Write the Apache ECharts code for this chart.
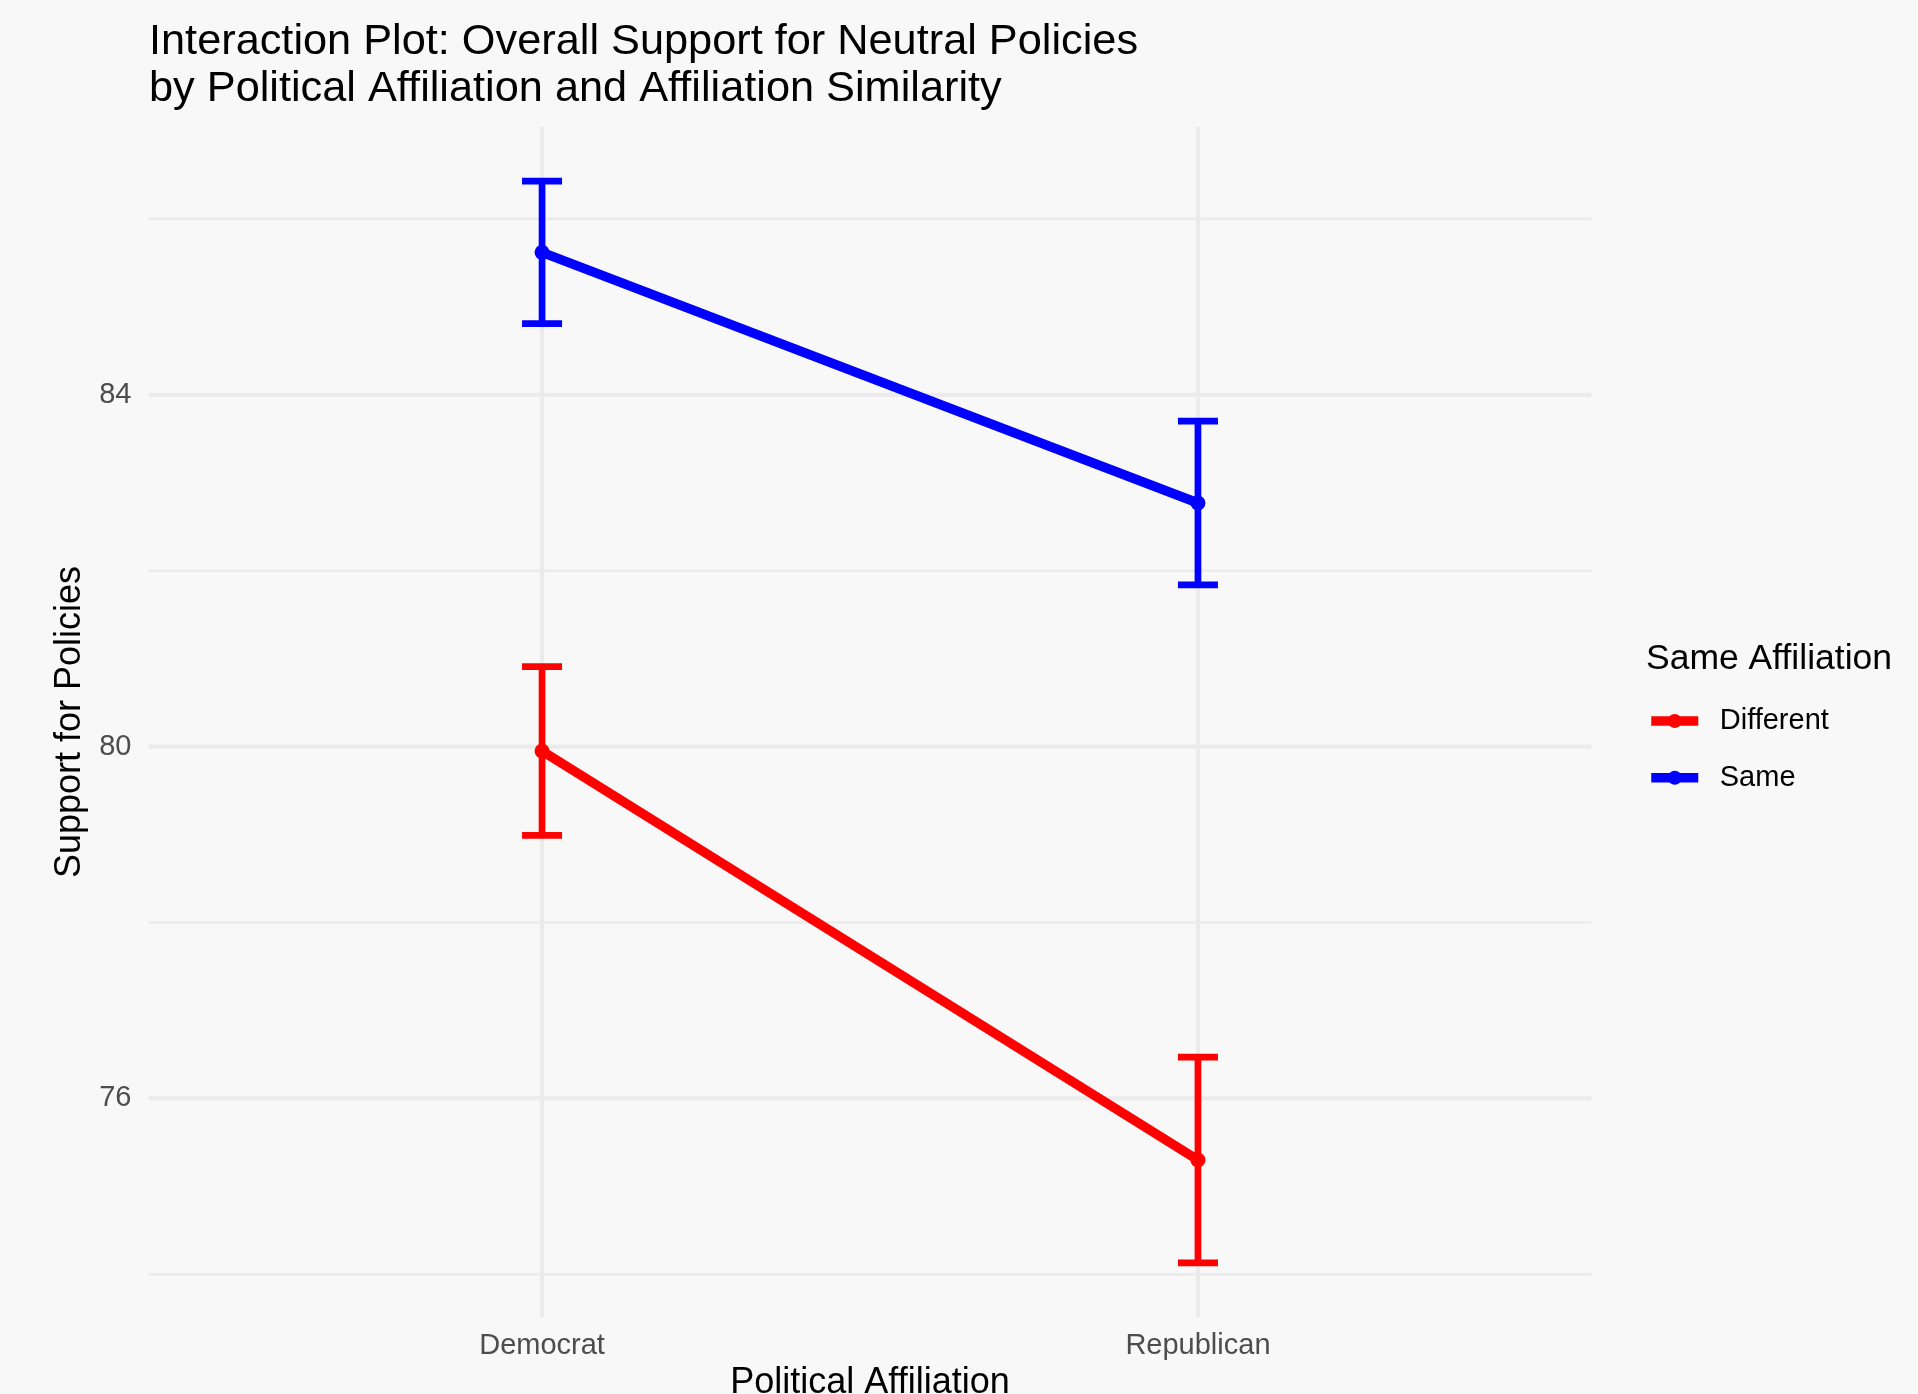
<!DOCTYPE html>
<html><head><meta charset="utf-8">
<script src="https://cdn.jsdelivr.net/npm/echarts@6/dist/echarts.min.js"></script>
<style>html,body{margin:0;padding:0;background:#F8F8F8}#c{width:1918px;height:1394px}</style>
</head><body><div id="c"></div>
<script>
// ---- data ----
const categories = ['Democrat', 'Republican'];
const groups = ['Different', 'Same'];
const diffMean = [79.95, 75.30];
const diffSE = [0.96, 1.17];
const sameMean = [85.62, 82.77];
const sameSE = [0.81, 0.93];
const yMajorTicks = [76, 80, 84];
const yMinorTicks = [74, 78, 82, 86];
const colors = { Different: '#FF0000', Same: '#0000FF' };

// ---- build ----
const FONT = "'Liberation Sans', Arial, Helvetica, sans-serif";
const xPos = categories.map((c, i) => i + 1);
const xMin = 1 - 0.6, xMax = categories.length + 0.6;

function lineData(mean) { return mean.map((m, i) => [xPos[i], m]); }
function errData(mean, se) { return mean.map((m, i) => [xPos[i], m, m - se[i], m + se[i]]); }

const allLo = diffMean.map((m, i) => m - diffSE[i]).concat(sameMean.map((m, i) => m - sameSE[i]));
const allHi = diffMean.map((m, i) => m + diffSE[i]).concat(sameMean.map((m, i) => m + sameSE[i]));
const lo = Math.min(...allLo), hi = Math.max(...allHi);
const pad = 0.05 * (hi - lo);
const yMin = lo - pad, yMax = hi + pad;

const hGrid = yMajorTicks.map(v => [1.5, v, 1]).concat(yMinorTicks.map(v => [1.5, v, 0]));
const vGrid = xPos.map(x => [x, 80, 1]);

const grid = { left: 148.5, right: 326.5, top: 127, bottom: 77, outerBoundsMode: 'none', containLabel: false };

function errRender(color) {
  return function (params, api) {
    const x = api.value(0);
    const pL = api.coord([x, api.value(2)]);
    const pH = api.coord([x, api.value(3)]);
    const hw = 20;
    const st = { stroke: color, lineWidth: 6.7, lineCap: 'butt' };
    return {
      type: 'group',
      children: [
        { type: 'line', shape: { x1: pL[0], y1: pL[1], x2: pH[0], y2: pH[1] }, style: st },
        { type: 'line', shape: { x1: pL[0] - hw, y1: pL[1], x2: pL[0] + hw, y2: pL[1] }, style: st },
        { type: 'line', shape: { x1: pH[0] - hw, y1: pH[1], x2: pH[0] + hw, y2: pH[1] }, style: st }
      ]
    };
  };
}

const chart = echarts.init(document.getElementById('c'), null, { renderer: 'canvas' });
chart.setOption({
  animation: false,
  backgroundColor: '#F8F8F8',
  textStyle: { fontFamily: FONT },
  title: [
    {
      text: 'Interaction Plot: Overall Support for Neutral Policies\nby Political Affiliation and Affiliation Similarity',
      left: 149, top: 19, padding: 0,
      textStyle: { fontSize: 43.3, fontWeight: 'normal', color: '#000', lineHeight: 47, fontFamily: FONT }
    },
    {
      text: 'Same Affiliation', left: 1646, top: 641.4, padding: 0,
      textStyle: { fontSize: 35.5, fontWeight: 'normal', color: '#000', lineHeight: 36, fontFamily: FONT }
    }
  ],
  legend: {
    orient: 'vertical', left: 1646.5, top: 706.5, padding: 0,
    itemWidth: 47, itemHeight: 17.5, itemGap: 27.7,
    data: groups,
    lineStyle: { width: 9.5 },
    textStyle: { fontSize: 29, color: '#000', lineHeight: 29, padding: [0, 0, 0, 16.5], fontFamily: FONT }
  },
  grid: grid,
  xAxis: {
    type: 'value', min: xMin, max: xMax,
    name: 'Political Affiliation', nameLocation: 'middle', nameGap: 45,
    nameTextStyle: { fontSize: 36, color: '#000', lineHeight: 36, fontFamily: FONT },
    axisLine: { show: false }, axisTick: { show: false }, splitLine: { show: false },
    axisLabel: {
      customValues: xPos, margin: 14, fontSize: 29, color: '#4D4D4D', lineHeight: 29, fontFamily: FONT,
      formatter: v => categories[Math.round(v) - 1] || ''
    }
  },
  yAxis: {
    type: 'value', min: yMin, max: yMax,
    name: 'Support for Policies', nameLocation: 'middle', nameGap: 48,
    nameTextStyle: { fontSize: 36, color: '#000', lineHeight: 36, fontFamily: FONT },
    axisLine: { show: false }, axisTick: { show: false }, splitLine: { show: false },
    axisLabel: {
      customValues: yMajorTicks, margin: 17, fontSize: 29, color: '#4D4D4D', fontFamily: FONT,
      formatter: v => String(v)
    }
  },
  series: [
    {
      name: 'hgrid', type: 'custom', z: 0, silent: true, data: hGrid,
      renderItem: function (params, api) {
        const v = api.value(1);
        const a = api.coord([xMin, v]), b = api.coord([xMax, v]);
        return { type: 'line', shape: { x1: a[0], y1: a[1], x2: b[0], y2: b[1] },
          style: { stroke: '#EBEBEB', lineWidth: api.value(2) ? 4.2 : 2.6 } };
      }
    },
    {
      name: 'vgrid', type: 'custom', z: 0, silent: true, data: vGrid,
      renderItem: function (params, api) {
        const x = api.value(0);
        const a = api.coord([x, yMin]), b = api.coord([x, yMax]);
        return { type: 'line', shape: { x1: a[0], y1: a[1], x2: b[0], y2: b[1] },
          style: { stroke: '#EBEBEB', lineWidth: 4.2 } };
      }
    },
    {
      name: 'Different', type: 'line', z: 3, data: lineData(diffMean),
      symbol: 'circle', symbolSize: 15, showSymbol: true,
      lineStyle: { color: colors.Different, width: 9.5 },
      itemStyle: { color: colors.Different, borderWidth: 0 }
    },
    {
      name: 'Same', type: 'line', z: 3, data: lineData(sameMean),
      symbol: 'circle', symbolSize: 15, showSymbol: true,
      lineStyle: { color: colors.Same, width: 9.5 },
      itemStyle: { color: colors.Same, borderWidth: 0 }
    },
    {
      name: 'Different-err', type: 'custom', z: 4, data: errData(diffMean, diffSE),
      encode: { x: 0, y: [1, 2, 3] }, renderItem: errRender(colors.Different)
    },
    {
      name: 'Same-err', type: 'custom', z: 4, data: errData(sameMean, sameSE),
      encode: { x: 0, y: [1, 2, 3] }, renderItem: errRender(colors.Same)
    }
  ]
});
</script>
</body></html>
